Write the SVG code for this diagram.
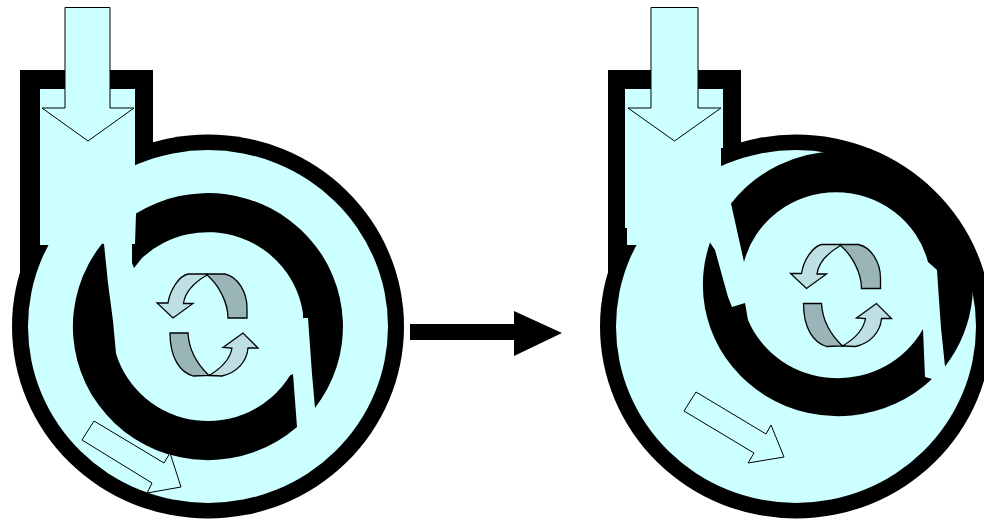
<svg xmlns="http://www.w3.org/2000/svg" width="984" height="522" viewBox="0 0 984 522">
<defs>
<style>
.k{fill:#000}
.w{fill:#ccffff}
.a{fill:#ccffff;stroke:#000;stroke-width:1;stroke-linejoin:miter}
.d{fill:#9ab5b8;stroke:#000;stroke-width:1.300}
.l{fill:#bfe0e3;stroke:#000;stroke-width:1.300}
</style>
<g id="rot-arrows">
<path class="d" d="M207 275L207 274H225C238 277 247 292 247 308V318H228C228 302 218 284 207 275Z"/>
<path class="l" d="M207 275L207 274H188C179 276 170 290 168 303H157L173 318L193 303.500H183.500C185 292 195 282 207 275Z"/>
<path class="d" d="M170 333H188C189 352 198 365 209 375.500L193 376C180 372 170 358 170 333Z"/>
<path class="l" d="M209 375.500L222 376C236 373 247 362 248 348H258L243 333L223 347.500L232 348C230 360 220 369 209 375.500Z"/>
</g>
</defs>
<rect width="984" height="522" fill="#fff"/>
<g id="pump-left">
<rect class="k" x="20" y="70" width="133" height="90"/>
<rect class="k" x="20" y="150" width="30" height="125"/>
<ellipse class="k" cx="208" cy="326.500" rx="196" ry="192"/>
<ellipse class="w" cx="208" cy="326.500" rx="180" ry="176.500"/>
<rect class="w" x="40" y="89" width="95" height="156"/>
<path class="k" d="M136 213.600A135 133.500 0 0 1 315 407.900L312 374L308 318H303L303 313.500A96 94.500 0 0 0 142 258L134 268L132 263V244H135Z"/>
<path class="k" d="M104 244L108 283L113 321L116 353.500A96 94.500 0 0 0 290 375.600L293 374L297 426.900A135 133.500 0 0 1 102 243.800Z"/>
</g>
<g id="inlet-arrow-left"><path class="a" d="M65 7.500H110V108H134L88 141L42 108H65Z"/></g>
<g id="rotation-left"><use href="#rot-arrows"/></g>
<g id="flow-arrow-left"><path class="a" d="M94 421L164 463L170 453L181 487L147 493L152 483L82 440Z"/></g>
<g id="pump-right">
<rect class="k" x="608" y="70" width="133" height="90"/>
<rect class="k" x="608" y="150" width="30" height="125"/>
<ellipse class="k" cx="796" cy="326.500" rx="196" ry="192"/>
<ellipse class="w" cx="796" cy="326.500" rx="180" ry="176.500"/>
<path class="w" d="M625 89H723V148H721V245H627V228H625Z"/>
<path class="k" d="M731 203.600A135 133.500 0 0 1 838 151.500A135 133.500 0 0 1 945 366.400L941 328L939 300L937 270L928 262A95 93 0 0 0 744 262Z"/>
<path class="k" d="M710 242.600L715 250L728 297L732 307L745 303L748 320A97 94 0 0 0 923 329L925 377L932 379A135 131.500 0 0 1 710 242.600Z"/>
</g>
<g id="inlet-arrow-right"><path class="a" d="M651 7.500H698V108H721L674.500 141L628 108H651Z"/></g>
<g id="rotation-right"><use href="#rot-arrows" transform="translate(633.500 -29.500)"/></g>
<g id="flow-arrow-right"><path class="a" d="M696 392L766 434L771 425L784 457L748 463L754 453L684 411Z"/></g>
<g id="connectors"><path class="k" d="M410 324H514V311L562 333L514 356V340H410Z"/></g>
</svg>
